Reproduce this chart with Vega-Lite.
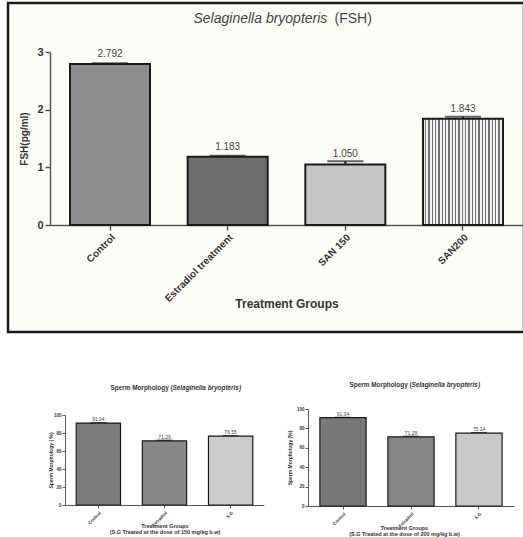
{
  "$schema": "https://vega.github.io/schema/vega-lite/v6.json",
  "padding": {"left": 6, "top": 1, "right": 0, "bottom": 0},
  "background": "#ffffff",
  "config": {
    "font": "Liberation Sans",
    "view": {"stroke": null},
    "axis": {"grid": false, "labelColor": "#333", "titleColor": "#333", "domainColor": "#555", "tickColor": "#555"}
  },
  "datasets": {
    "fsh": [
      {"g": "Control", "v": 2.792, "e": 0.012},
      {"g": "Estradiol treatment", "v": 1.183, "e": 0.02},
      {"g": "SAN 150", "v": 1.05, "e": 0.055},
      {"g": "SAN200", "v": 1.843, "e": 0.035}
    ],
    "sm150": [
      {"g": "Control", "v": 91.04, "e": 0.3},
      {"g": "Estradiol", "v": 71.29, "e": 0.6},
      {"g": "S.G", "v": 76.55, "e": 0.4}
    ],
    "sm200": [
      {"g": "Control", "v": 91.04, "e": 0.3},
      {"g": "Estradiol", "v": 71.29, "e": 0.5},
      {"g": "S.G", "v": 75.14, "e": 0.4}
    ]
  },
  "resolve": {"scale": {"fill": "independent"}},
  "vconcat": [
    {
      "width": 516,
      "height": 329,
      "view": {"stroke": "#1a1a1a", "strokeWidth": 2.5, "fill": "#fdfdf8"},
      "data": {"name": "fsh"},
      "layer": [
        {
          "mark": {"type": "errorbar", "ticks": {"size": 36, "thickness": 2, "color": "#222"}, "rule": {"strokeWidth": 2, "color": "#222"}},
          "encoding": {
            "x": {"field": "g", "type": "nominal", "sort": null, "scale": {"range": [42, 515], "paddingInner": 0.32, "paddingOuter": 0.17}, "axis": null},
            "y": {"field": "v", "type": "quantitative", "scale": {"domain": [0, 3], "range": [222, 49], "nice": false},
              "axis": {"orient": "right", "labels": false, "ticks": false, "domain": false, "title": "Selaginella bryopteris", "titleX": -331, "titleY": 19, "titleAlign": "left", "titleBaseline": "alphabetic", "titleAngle": 0, "titleFontSize": 14, "titleFontWeight": "normal", "titleFontStyle": "italic", "titleColor": "#444"}},
            "yError": {"field": "e"}
          }
        },
        {
          "mark": {"type": "bar", "stroke": "#1a1a1a", "strokeWidth": 2},
          "encoding": {
            "x": {"field": "g", "type": "nominal", "sort": null, "scale": {"range": [42, 515], "paddingInner": 0.32, "paddingOuter": 0.17},
              "axis": {"orient": "bottom", "offset": -107, "title": "Treatment Groups", "titleFontSize": 12, "titleFontWeight": "bold", "titleY": 78, "titleBaseline": "middle", "labelAngle": -45, "labelFontSize": 10, "labelFontWeight": "bold", "labelAlign": "right", "labelBaseline": "top", "labelPadding": 2, "tickSize": 5, "domainWidth": 1.5, "tickWidth": 1.5}},
            "y": {"field": "v", "type": "quantitative", "scale": {"domain": [0, 3], "range": [222, 49], "nice": false},
              "axis": {"orient": "left", "offset": -42, "values": [0, 1, 2, 3], "title": "FSH(pg/ml)", "titleX": -26, "titleY": 135.5, "titleBaseline": "middle", "titleFontSize": 10, "titleFontWeight": "bold", "labelFontSize": 11, "labelFontWeight": "bold", "tickSize": 5, "domainWidth": 1.5, "tickWidth": 1.5}},
            "fill": {
              "condition": {"test": "datum.g === 'SAN200'", "value": {"gradient": "linear", "x1": 0, "y1": 0, "x2": 1, "y2": 0, "stops": [
                {"offset": 0, "color": "#f2f2f2"}, {"offset": 0.025, "color": "#f2f2f2"}, {"offset": 0.025, "color": "#707070"}, {"offset": 0.04167, "color": "#707070"},
                {"offset": 0.04167, "color": "#f2f2f2"}, {"offset": 0.06667, "color": "#f2f2f2"}, {"offset": 0.06667, "color": "#707070"}, {"offset": 0.08333, "color": "#707070"},
                {"offset": 0.08333, "color": "#f2f2f2"}, {"offset": 0.10833, "color": "#f2f2f2"}, {"offset": 0.10833, "color": "#707070"}, {"offset": 0.125, "color": "#707070"},
                {"offset": 0.125, "color": "#f2f2f2"}, {"offset": 0.15, "color": "#f2f2f2"}, {"offset": 0.15, "color": "#707070"}, {"offset": 0.16667, "color": "#707070"},
                {"offset": 0.16667, "color": "#f2f2f2"}, {"offset": 0.19167, "color": "#f2f2f2"}, {"offset": 0.19167, "color": "#707070"}, {"offset": 0.20833, "color": "#707070"},
                {"offset": 0.20833, "color": "#f2f2f2"}, {"offset": 0.23333, "color": "#f2f2f2"}, {"offset": 0.23333, "color": "#707070"}, {"offset": 0.25, "color": "#707070"},
                {"offset": 0.25, "color": "#f2f2f2"}, {"offset": 0.275, "color": "#f2f2f2"}, {"offset": 0.275, "color": "#707070"}, {"offset": 0.29167, "color": "#707070"},
                {"offset": 0.29167, "color": "#f2f2f2"}, {"offset": 0.31667, "color": "#f2f2f2"}, {"offset": 0.31667, "color": "#707070"}, {"offset": 0.33333, "color": "#707070"},
                {"offset": 0.33333, "color": "#f2f2f2"}, {"offset": 0.35833, "color": "#f2f2f2"}, {"offset": 0.35833, "color": "#707070"}, {"offset": 0.375, "color": "#707070"},
                {"offset": 0.375, "color": "#f2f2f2"}, {"offset": 0.4, "color": "#f2f2f2"}, {"offset": 0.4, "color": "#707070"}, {"offset": 0.41667, "color": "#707070"},
                {"offset": 0.41667, "color": "#f2f2f2"}, {"offset": 0.44167, "color": "#f2f2f2"}, {"offset": 0.44167, "color": "#707070"}, {"offset": 0.45833, "color": "#707070"},
                {"offset": 0.45833, "color": "#f2f2f2"}, {"offset": 0.48333, "color": "#f2f2f2"}, {"offset": 0.48333, "color": "#707070"}, {"offset": 0.5, "color": "#707070"},
                {"offset": 0.5, "color": "#f2f2f2"}, {"offset": 0.525, "color": "#f2f2f2"}, {"offset": 0.525, "color": "#707070"}, {"offset": 0.54167, "color": "#707070"},
                {"offset": 0.54167, "color": "#f2f2f2"}, {"offset": 0.56667, "color": "#f2f2f2"}, {"offset": 0.56667, "color": "#707070"}, {"offset": 0.58333, "color": "#707070"},
                {"offset": 0.58333, "color": "#f2f2f2"}, {"offset": 0.60833, "color": "#f2f2f2"}, {"offset": 0.60833, "color": "#707070"}, {"offset": 0.625, "color": "#707070"},
                {"offset": 0.625, "color": "#f2f2f2"}, {"offset": 0.65, "color": "#f2f2f2"}, {"offset": 0.65, "color": "#707070"}, {"offset": 0.66667, "color": "#707070"},
                {"offset": 0.66667, "color": "#f2f2f2"}, {"offset": 0.69167, "color": "#f2f2f2"}, {"offset": 0.69167, "color": "#707070"}, {"offset": 0.70833, "color": "#707070"},
                {"offset": 0.70833, "color": "#f2f2f2"}, {"offset": 0.73333, "color": "#f2f2f2"}, {"offset": 0.73333, "color": "#707070"}, {"offset": 0.75, "color": "#707070"},
                {"offset": 0.75, "color": "#f2f2f2"}, {"offset": 0.775, "color": "#f2f2f2"}, {"offset": 0.775, "color": "#707070"}, {"offset": 0.79167, "color": "#707070"},
                {"offset": 0.79167, "color": "#f2f2f2"}, {"offset": 0.81667, "color": "#f2f2f2"}, {"offset": 0.81667, "color": "#707070"}, {"offset": 0.83333, "color": "#707070"},
                {"offset": 0.83333, "color": "#f2f2f2"}, {"offset": 0.85833, "color": "#f2f2f2"}, {"offset": 0.85833, "color": "#707070"}, {"offset": 0.875, "color": "#707070"},
                {"offset": 0.875, "color": "#f2f2f2"}, {"offset": 0.9, "color": "#f2f2f2"}, {"offset": 0.9, "color": "#707070"}, {"offset": 0.91667, "color": "#707070"},
                {"offset": 0.91667, "color": "#f2f2f2"}, {"offset": 0.94167, "color": "#f2f2f2"}, {"offset": 0.94167, "color": "#707070"}, {"offset": 0.95833, "color": "#707070"},
                {"offset": 0.95833, "color": "#f2f2f2"}, {"offset": 0.98333, "color": "#f2f2f2"}, {"offset": 0.98333, "color": "#707070"}, {"offset": 1, "color": "#707070"}
              ]}},
              "field": "g", "type": "nominal", "sort": null,
              "scale": {"domain": ["Control", "Estradiol treatment", "SAN 150", "SAN200"], "range": ["#8d8d8d", "#6f6f6f", "#c4c4c4", "#c9c9c9"]}, "legend": null
            }
          }
        },
        {
          "mark": {"type": "text", "dy": -10, "baseline": "middle", "fontSize": 10, "color": "#444"},
          "encoding": {
            "x": {"field": "g", "type": "nominal", "sort": null, "scale": {"range": [42, 515], "paddingInner": 0.32, "paddingOuter": 0.17},
              "axis": {"orient": "top", "labels": false, "ticks": false, "domain": false, "title": "(FSH)", "titleX": 326, "titleY": 19, "titleAlign": "left", "titleBaseline": "alphabetic", "titleAngle": 0, "titleFontSize": 14, "titleFontWeight": "normal", "titleColor": "#444"}},
            "y": {"field": "v", "type": "quantitative", "axis": null},
            "text": {"field": "v", "type": "quantitative", "format": ".3f"}
          }
        }
      ],
      "resolve": {"axis": {"x": "independent", "y": "independent"}}
    },
    {
      "resolve": {"scale": {"fill": "independent"}},
      "hconcat": [
        {
          "width": 259,
          "height": 165,
          "data": {"name": "sm150"},
          "layer": [
            {
              "mark": {"type": "errorbar", "ticks": {"size": 16, "thickness": 1.5, "color": "#222"}, "rule": {"strokeWidth": 1, "color": "#222"}},
              "encoding": {
                "x": {"field": "g", "type": "nominal", "sort": null, "scale": {"range": [57, 256], "paddingInner": 0.33, "paddingOuter": 0.17}, "axis": null},
                "y": {"field": "v", "type": "quantitative", "scale": {"domain": [0, 100], "range": [135, 45], "nice": false},
                  "axis": {"orient": "right", "labels": false, "ticks": false, "domain": false, "title": "Sperm Morphology (", "titleX": -157, "titleY": 19.5, "titleAlign": "left", "titleBaseline": "alphabetic", "titleAngle": 0, "titleFontSize": 6.4, "titleFontWeight": "bold", "titleColor": "#333"}},
                "yError": {"field": "e"}
              }
            },
            {
              "mark": {"type": "bar", "stroke": "#1a1a1a", "strokeWidth": 1.2},
              "encoding": {
                "x": {"field": "g", "type": "nominal", "sort": null, "scale": {"range": [57, 256], "paddingInner": 0.33, "paddingOuter": 0.17},
                  "axis": {"orient": "bottom", "offset": -30, "title": ["Treatment Groups", "(S.G Treated at the dose of 150 mg/kg b.w)"], "titleFontSize": 5.5, "titleFontWeight": "bold", "titleLineHeight": 6.5, "titleY": 18, "titleBaseline": "top", "labelAngle": -45, "labelFontSize": 4.5, "labelFontWeight": "bold", "labelAlign": "right", "labelBaseline": "top", "labelPadding": 2, "tickSize": 3, "domainWidth": 1, "tickWidth": 1}},
                "y": {"field": "v", "type": "quantitative", "scale": {"domain": [0, 100], "range": [135, 45], "nice": false},
                  "axis": {"orient": "left", "offset": -57, "values": [0, 20, 40, 60, 80, 100], "title": "Sperm Morphology ( %)", "titleX": -15, "titleY": 90, "titleBaseline": "middle", "titleFontSize": 5, "titleFontWeight": "bold", "labelFontSize": 4.5, "labelFontWeight": "bold", "tickSize": 3, "labelPadding": 1, "domainWidth": 1, "tickWidth": 1}},
                "fill": {"field": "g", "type": "nominal", "sort": null, "scale": {"domain": ["Control", "Estradiol", "S.G"], "range": ["#7d7d7d", "#878787", "#cbcbcb"]}, "legend": null}
              }
            },
            {
              "mark": {"type": "text", "dy": -4, "baseline": "middle", "fontSize": 5, "color": "#444"},
              "encoding": {
                "x": {"field": "g", "type": "nominal", "sort": null, "scale": {"range": [57, 256], "paddingInner": 0.33, "paddingOuter": 0.17},
                  "axis": {"orient": "top", "labels": false, "ticks": false, "domain": false, "title": "Selaginella bryopteris)", "titleX": 164, "titleY": 19.5, "titleAlign": "left", "titleBaseline": "alphabetic", "titleAngle": 0, "titleFontSize": 6.4, "titleFontWeight": "bold", "titleFontStyle": "italic", "titleColor": "#333"}},
                "y": {"field": "v", "type": "quantitative", "axis": null},
                "text": {"field": "v", "type": "quantitative", "format": ".2f"}
              }
            }
          ],
          "resolve": {"axis": {"x": "independent", "y": "independent"}}
        },
        {
          "width": 246,
          "height": 165,
          "data": {"name": "sm200"},
          "layer": [
            {
              "mark": {"type": "errorbar", "ticks": {"size": 16, "thickness": 1.5, "color": "#222"}, "rule": {"strokeWidth": 1, "color": "#222"}},
              "encoding": {
                "x": {"field": "g", "type": "nominal", "sort": null, "scale": {"range": [31, 237], "paddingInner": 0.32, "paddingOuter": 0.175}, "axis": null},
                "y": {"field": "v", "type": "quantitative", "scale": {"domain": [0, 100], "range": [136, 39], "nice": false},
                  "axis": {"orient": "right", "labels": false, "ticks": false, "domain": false, "title": "Sperm Morphology (", "titleX": -174, "titleY": 16.5, "titleAlign": "left", "titleBaseline": "alphabetic", "titleAngle": 0, "titleFontSize": 6.4, "titleFontWeight": "bold", "titleColor": "#333"}},
                "yError": {"field": "e"}
              }
            },
            {
              "mark": {"type": "bar", "stroke": "#1a1a1a", "strokeWidth": 1.2},
              "encoding": {
                "x": {"field": "g", "type": "nominal", "sort": null, "scale": {"range": [31, 237], "paddingInner": 0.32, "paddingOuter": 0.175},
                  "axis": {"orient": "bottom", "offset": -29, "title": ["Treatment Groups", "(S.G Treated at the dose of 200 mg/kg b.w)"], "titleX": 127, "titleFontSize": 5.5, "titleFontWeight": "bold", "titleLineHeight": 6.5, "titleY": 19, "titleBaseline": "top", "labelAngle": -45, "labelFontSize": 4.5, "labelFontWeight": "bold", "labelAlign": "right", "labelBaseline": "top", "labelPadding": 2, "tickSize": 3, "domainWidth": 1, "tickWidth": 1}},
                "y": {"field": "v", "type": "quantitative", "scale": {"domain": [0, 100], "range": [136, 39], "nice": false},
                  "axis": {"orient": "left", "offset": -31, "values": [0, 20, 40, 60, 80, 100], "title": "Sperm Morphology (%)", "titleX": -19, "titleY": 87.5, "titleBaseline": "middle", "titleFontSize": 5, "titleFontWeight": "bold", "labelFontSize": 4.5, "labelFontWeight": "bold", "tickSize": 3, "labelPadding": 1, "domainWidth": 1, "tickWidth": 1}},
                "fill": {"field": "g", "type": "nominal", "sort": null, "scale": {"domain": ["Control", "Estradiol", "S.G"], "range": ["#777777", "#858585", "#c9c9c9"]}, "legend": null}
              }
            },
            {
              "mark": {"type": "text", "dy": -4, "baseline": "middle", "fontSize": 5, "color": "#444"},
              "encoding": {
                "x": {"field": "g", "type": "nominal", "sort": null, "scale": {"range": [31, 237], "paddingInner": 0.32, "paddingOuter": 0.175},
                  "axis": {"orient": "top", "labels": false, "ticks": false, "domain": false, "title": "Selaginella bryopteris)", "titleX": 134, "titleY": 16.5, "titleAlign": "left", "titleBaseline": "alphabetic", "titleAngle": 0, "titleFontSize": 6.4, "titleFontWeight": "bold", "titleFontStyle": "italic", "titleColor": "#333"}},
                "y": {"field": "v", "type": "quantitative", "axis": null},
                "text": {"field": "v", "type": "quantitative", "format": ".2f"}
              }
            }
          ],
          "resolve": {"axis": {"x": "independent", "y": "independent"}}
        }
      ],
      "spacing": 10
    }
  ],
  "spacing": 36
}
